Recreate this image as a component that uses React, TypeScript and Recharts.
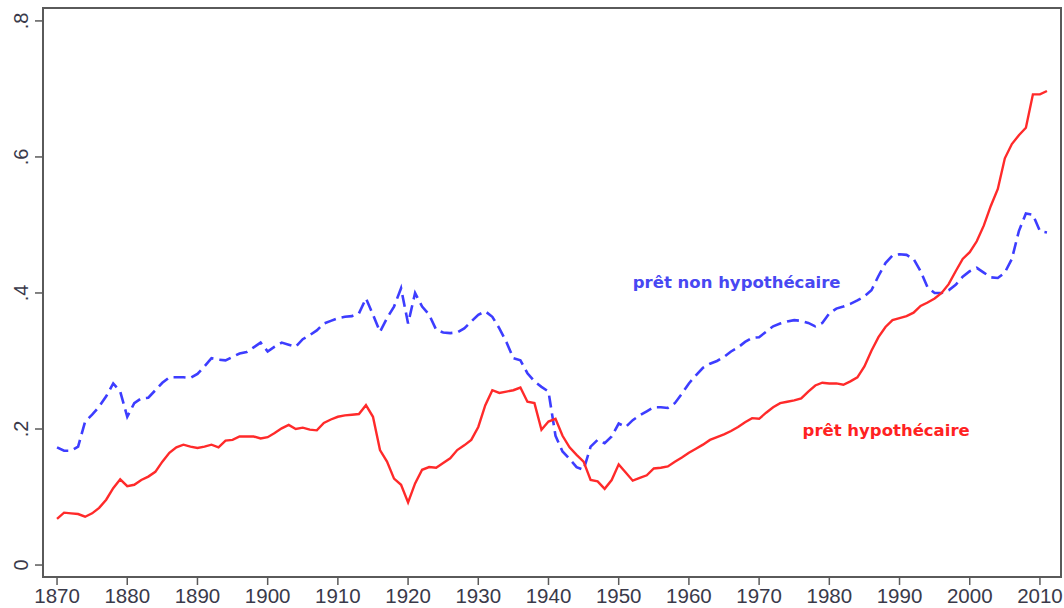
import { Line, LineChart, ReferenceArea, ReferenceDot, XAxis, YAxis } from 'recharts';

const years: number[] = [];
for (let y = 1870; y <= 2011; y++) years.push(y);

const mortgage = [
  0.068, 0.077, 0.076, 0.075, 0.071, 0.076, 0.084, 0.096, 0.113, 0.126,
  0.116, 0.118, 0.125, 0.13, 0.137, 0.152, 0.165, 0.173, 0.177, 0.174,
  0.172, 0.174, 0.177, 0.173, 0.183, 0.184, 0.189, 0.189, 0.189, 0.186,
  0.188, 0.194, 0.201, 0.206, 0.2, 0.202, 0.199, 0.198, 0.209, 0.214,
  0.218, 0.22, 0.221, 0.222, 0.235, 0.218, 0.169, 0.152, 0.127, 0.118,
  0.092, 0.12, 0.14, 0.144, 0.143, 0.15, 0.157, 0.169, 0.176, 0.184,
  0.203, 0.235, 0.257, 0.253, 0.255, 0.257, 0.261, 0.24, 0.238, 0.199,
  0.211, 0.215, 0.19, 0.173, 0.162, 0.152, 0.125, 0.123, 0.112, 0.125,
  0.148, 0.136, 0.124, 0.128, 0.132, 0.142, 0.143, 0.145, 0.152, 0.158,
  0.165, 0.171, 0.177, 0.184, 0.188, 0.192, 0.197, 0.203, 0.21, 0.216,
  0.215, 0.224, 0.232, 0.238, 0.24, 0.242, 0.245, 0.255, 0.264, 0.268,
  0.267, 0.267, 0.265, 0.27, 0.276, 0.292, 0.315, 0.335, 0.35, 0.36,
  0.363, 0.366, 0.371, 0.381, 0.386, 0.392, 0.4, 0.413, 0.432, 0.45,
  0.46, 0.476, 0.499, 0.528, 0.553, 0.598, 0.619, 0.632, 0.643, 0.692,
  0.692, 0.697,
];

const nonMortgage = [
  0.173, 0.168, 0.168, 0.174, 0.211, 0.221, 0.233, 0.248, 0.267, 0.255,
  0.218, 0.238, 0.245, 0.246, 0.257, 0.268, 0.276, 0.276, 0.276, 0.275,
  0.281, 0.292, 0.304, 0.302, 0.301, 0.306, 0.311, 0.313, 0.32, 0.327,
  0.314, 0.321, 0.327, 0.324, 0.321, 0.332, 0.338, 0.345, 0.355, 0.359,
  0.363, 0.365, 0.366, 0.37, 0.392, 0.368, 0.343, 0.363, 0.38, 0.407,
  0.355, 0.4, 0.38, 0.368, 0.346, 0.342, 0.341, 0.342, 0.348, 0.358,
  0.368, 0.373, 0.365, 0.348, 0.328, 0.304, 0.301, 0.282, 0.27, 0.262,
  0.255, 0.19, 0.167, 0.156, 0.144, 0.14, 0.174, 0.184, 0.179, 0.189,
  0.208, 0.203, 0.213, 0.22, 0.226, 0.232, 0.232, 0.231, 0.238, 0.252,
  0.267, 0.279, 0.29, 0.296, 0.3, 0.306, 0.314, 0.32, 0.328, 0.334,
  0.335, 0.343, 0.351, 0.355, 0.358, 0.36, 0.359, 0.356, 0.351, 0.356,
  0.37, 0.377, 0.38, 0.384, 0.389, 0.395, 0.404, 0.425, 0.444, 0.455,
  0.457, 0.456, 0.45, 0.432, 0.408, 0.4, 0.4, 0.404, 0.412, 0.424,
  0.432, 0.437, 0.43, 0.423, 0.422, 0.43, 0.45, 0.491, 0.517, 0.515,
  0.491, 0.489,
];

const xTicks = [1870, 1880, 1890, 1900, 1910, 1920, 1930, 1940, 1950, 1960, 1970, 1980, 1990, 2000, 2010];
const yTicks = [0, 0.2, 0.4, 0.6, 0.8];
const xDomain = [1868, 2013];
const yDomain = [-0.0176, 0.819];

const data = years.map((year, i) => ({ year, mortgage: mortgage[i], nonMortgage: nonMortgage[i] }));

const frame = '#5a5a5a';
const tickFont = '"Liberation Sans", Arial, sans-serif';
const labelFont = '"DejaVu Sans", Verdana, sans-serif';

function fmtY(v: number) {
  if (v === 0) return '0';
  return '.' + Math.round(v * 10);
}

function XTick({ x, y, payload }: any) {
  return (
    <text x={x} y={y + 16} textAnchor="middle" fontSize={20.5} fontFamily={tickFont} fill="#3a3a4a">
      {payload.value}
    </text>
  );
}

function YTick({ x, y, payload }: any) {
  const tx = x - 5;
  return (
    <text
      x={tx}
      y={y}
      transform={`rotate(-90, ${tx}, ${y})`}
      textAnchor="middle"
      fontSize={20}
      fontFamily={tickFont}
      fill="#3a3a4a"
    >
      {fmtY(payload.value)}
    </text>
  );
}

export default function App() {
  return (
    <div style={{ position: 'absolute', left: 0, top: 0, background: '#fff' }}>
      <LineChart width={1064} height={608} data={data} margin={{ top: 8, right: 3, left: 0, bottom: 0 }}>
        <XAxis
          dataKey="year"
          type="number"
          domain={xDomain}
          ticks={xTicks}
          tick={<XTick />}
          tickSize={8}
          height={31}
          axisLine={{ stroke: frame, strokeWidth: 2 }}
          tickLine={{ stroke: frame, strokeWidth: 1.5 }}
          allowDataOverflow
        />
        <YAxis
          type="number"
          domain={yDomain}
          ticks={yTicks}
          tick={<YTick />}
          tickSize={8}
          width={43}
          axisLine={{ stroke: frame, strokeWidth: 2 }}
          tickLine={{ stroke: frame, strokeWidth: 1.5 }}
          allowDataOverflow
        />
        <ReferenceArea
          x1={xDomain[0]}
          x2={xDomain[1]}
          y1={yDomain[0]}
          y2={yDomain[1]}
          fill="none"
          fillOpacity={0}
          stroke={frame}
          strokeWidth={2}
        />
        <Line
          dataKey="nonMortgage"
          type="linear"
          stroke="#3d3dff"
          strokeWidth={2.6}
          strokeDasharray="12 6"
          dot={false}
          isAnimationActive={false}
        />
        <Line
          dataKey="mortgage"
          type="linear"
          stroke="#ff2a2a"
          strokeWidth={2.4}
          dot={false}
          isAnimationActive={false}
        />
        <ReferenceDot
          x={1966.8}
          y={0.416}
          r={0}
          label={{
            value: 'prêt non hypothécaire',
            position: 'center',
            fill: '#4848f2',
            fontSize: 16.5,
            fontWeight: 'bold',
            fontFamily: labelFont,
          }}
        />
        <ReferenceDot
          x={1988.1}
          y={0.199}
          r={0}
          label={{
            value: 'prêt hypothécaire',
            position: 'center',
            fill: '#ff2222',
            fontSize: 16.5,
            fontWeight: 'bold',
            fontFamily: labelFont,
          }}
        />
      </LineChart>
    </div>
  );
}
